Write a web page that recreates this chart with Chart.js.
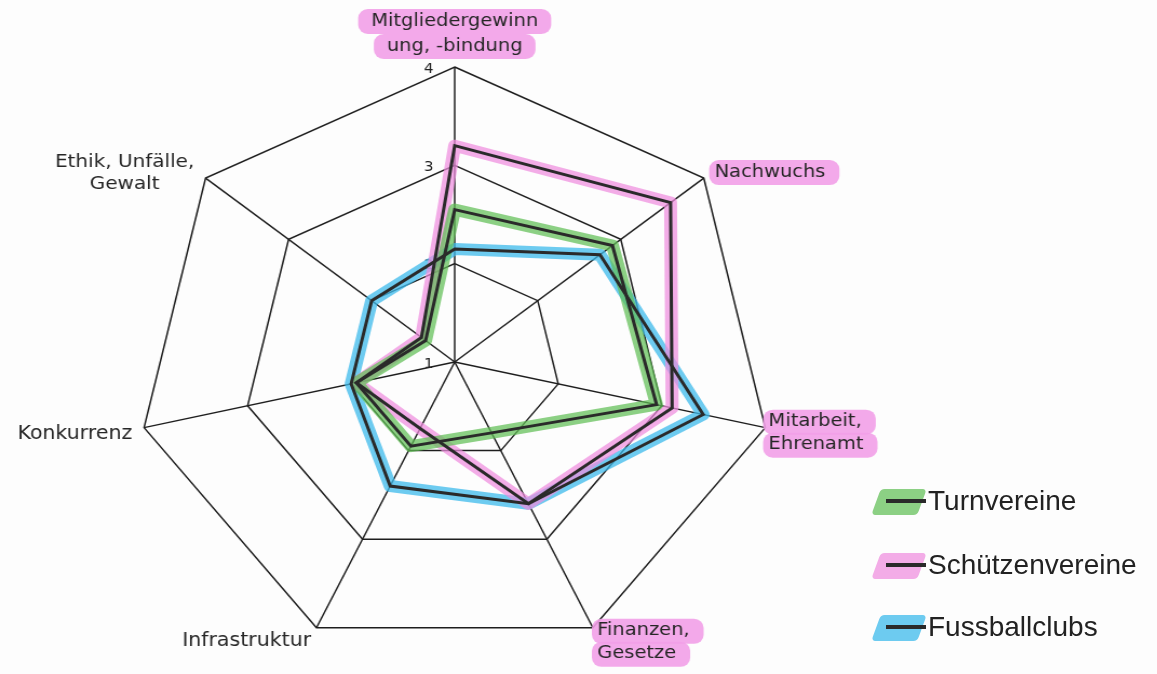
<!DOCTYPE html>
<html>
<head>
<meta charset="utf-8">
<script src="https://cdn.jsdelivr.net/npm/chart.js@4.4.0/dist/chart.umd.min.js"></script>
<style>
  body { margin: 0; background: #fdfdfd; width: 1157px; height: 674px; overflow: hidden; position: relative; font-family: "Liberation Sans", Arial, sans-serif; }
  /* the scanned original is slightly stretched sideways */
  #wrap { position: absolute; left: 0; top: 0; width: 844px; height: 674px; transform: scaleX(1.08); transform-origin: 0 0; }
  .legend { position: absolute; left: 872px; height: 32px; display: flex; align-items: center; font-size: 28px; color: #222; }
  .swatch { position: relative; width: 52px; height: 26px; margin-right: 4px; }
  .swatch .hl { position: absolute; left: 4px; top: 1px; width: 46px; height: 26px; transform: skewX(-20deg); border-radius: 4px; }
  .swatch .pen { position: absolute; left: 14px; top: 11px; width: 40px; height: 4px; background: #2a2a2a; }
</style>
</head>
<body>
<div id="wrap"><canvas id="radar"></canvas></div>
<div id="legend"></div>
<script>
const categories = [
  ['Mitgliedergewinn', 'ung, -bindung'],
  'Nachwuchs',
  ['Mitarbeit,', 'Ehrenamt'],
  ['Finanzen,', 'Gesetze'],
  'Infrastruktur',
  'Konkurrenz',
  ['Ethik, Unfälle,', 'Gewalt']
];
const seriesNames = ['Turnvereine', 'Schützenvereine', 'Fussballclubs'];
const turnvereine = [2.55, 2.9, 2.95, 1.8, 1.95, 1.95, 1.35];
const schuetzenvereine = [3.2, 3.6, 3.1, 2.6, 1.75, 1.95, 1.4];
const fussballclubs = [2.15, 2.75, 3.4, 2.6, 2.4, 2.0, 2.0];
const tickValues = [1, 2, 3, 4];

const seriesData = [turnvereine, schuetzenvereine, fussballclubs];
const marker = ['rgba(95, 190, 85, 0.72)', 'rgba(238, 140, 222, 0.72)', 'rgba(60, 185, 235, 0.75)'];
const pinkLabel = 'rgba(242, 160, 232, 0.9)';

// highlighter strokes under the pen lines
const datasets = [];
seriesData.forEach((values, i) => {
  datasets.push({
    label: seriesNames[i] + ' marker',
    data: values,
    borderColor: marker[i],
    borderWidth: 12,
    borderJoinStyle: 'round',
    backgroundColor: 'transparent',
    pointRadius: 0,
    fill: false,
    order: 2
  });
  datasets.push({
    label: seriesNames[i],
    data: values,
    borderColor: '#2a2a2a',
    borderWidth: 3,
    backgroundColor: 'transparent',
    pointRadius: 0,
    fill: false,
    order: 1
  });
});

// tick numbers sit to the left of the top axis
const tickText = {
  id: 'tickText',
  beforeDatasetsDraw(chart) {
    const scale = chart.scales.r;
    const ctx = chart.ctx;
    ctx.save();
    ctx.font = '14px "DejaVu Sans"';
    ctx.fillStyle = '#222';
    ctx.textAlign = 'center';
    ctx.textBaseline = 'middle';
    tickValues.forEach(v => {
      const d = scale.getDistanceFromCenterForValue(v);
      ctx.fillText(String(v), scale.xCenter - 24, scale.yCenter - d + 2);
    });
    ctx.restore();
  }
};

// axis titles placed by hand next to the outer vertices, some with pink marker
const labelSpots = [
  { dx: 0, dy: -46, gap: 25, align: 'center', size: 18, pink: true },
  { dx: 10, dy: -6, gap: 0, align: 'left', size: 18, pink: true },
  { dx: 3, dy: -6, gap: 23, align: 'left', size: 18, pink: true },
  { dx: 4, dy: 3, gap: 23, align: 'left', size: 18, pink: true },
  { dx: -5, dy: 13, gap: 0, align: 'right', size: 19, pink: false },
  { dx: -11, dy: 6, gap: 0, align: 'right', size: 19, pink: false },
  { dx: -75, dy: -16, gap: 22, align: 'center', size: 18.5, pink: false }
];
const axisTitles = {
  id: 'axisTitles',
  afterDraw(chart) {
    const scale = chart.scales.r;
    const ctx = chart.ctx;
    ctx.save();
    ctx.textBaseline = 'middle';
    categories.forEach((label, i) => {
      const s = labelSpots[i];
      const p = scale.getPointPosition(i, scale.drawingArea);
      const lines = Array.isArray(label) ? label : [label];
      ctx.font = s.size + 'px "DejaVu Sans"';
      ctx.textAlign = s.align;
      lines.forEach((line, k) => {
        const x = p.x + s.dx;
        const y = p.y + s.dy + k * s.gap;
        const w = ctx.measureText(line).width;
        if (s.pink) {
          const left = s.align === 'center' ? x - w / 2 - 12 : x - 5;
          const width = s.align === 'center' ? w + 24 : w + 18;
          ctx.fillStyle = pinkLabel;
          ctx.beginPath();
          ctx.roundRect(left, y - 12, width, 25, 9);
          ctx.fill();
        }
        ctx.fillStyle = '#262626';
        ctx.fillText(line, x, y);
      });
    });
    ctx.restore();
  }
};

new Chart(document.getElementById('radar').getContext('2d'), {
  type: 'radar',
  data: { labels: categories, datasets: datasets },
  options: {
    responsive: true,
    maintainAspectRatio: false,
    animation: false,
    layout: { padding: { left: 126, right: 127, top: 67, bottom: 16 } },
    plugins: { legend: { display: false }, tooltip: { enabled: false } },
    elements: { line: { tension: 0 } },
    scales: {
      r: {
        min: 1,
        max: 4,
        ticks: { stepSize: 1, display: false },
        grid: { color: '#1e1e1e', lineWidth: 1.5 },
        angleLines: { color: '#1e1e1e', lineWidth: 1.5 },
        pointLabels: { display: false }
      }
    }
  },
  plugins: [tickText, axisTitles]
});

// legend
const legend = document.getElementById('legend');
const legendTops = [485, 549, 611];
seriesNames.forEach((name, i) => {
  const row = document.createElement('div');
  row.className = 'legend';
  row.style.top = legendTops[i] + 'px';
  row.innerHTML = '<div class="swatch"><div class="hl" style="background:' + marker[i] + '"></div><div class="pen"></div></div><span>' + name + '</span>';
  legend.appendChild(row);
});
</script>
</body>
</html>
